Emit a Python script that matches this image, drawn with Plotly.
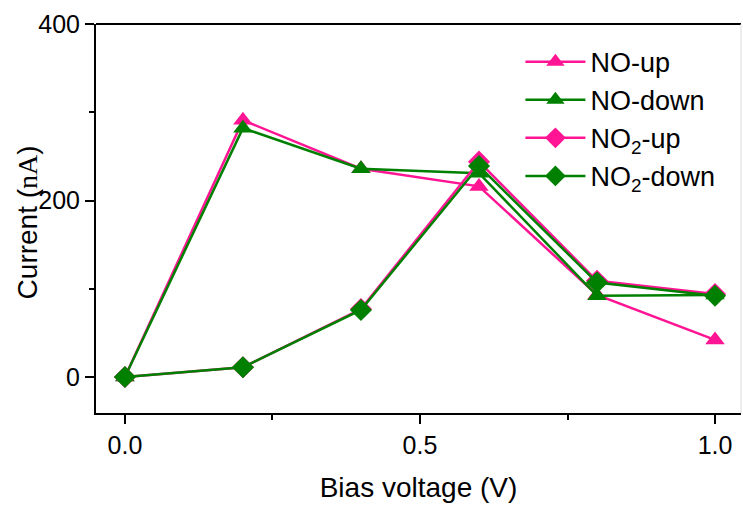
import plotly.graph_objects as go

voltage = [0.0, 0.2, 0.4, 0.6, 0.8, 1.0]
no_up = [0, 291, 236, 216, 93, 42]
no_down = [0, 282, 236, 231, 92, 93]
no2_up = [0, 11, 77, 244, 109, 94]
no2_down = [0, 11, 76, 239, 107, 92]

PINK = "#FF1493"
GREEN = "#008000"
FONT = "Liberation Sans, Arial"

series = [
    ("NO-up", no_up, PINK, "triangle-up", 17),
    ("NO-down", no_down, GREEN, "triangle-up", 17),
    ("NO<sub>2</sub>-up", no2_up, PINK, "diamond", 17),
    ("NO<sub>2</sub>-down", no2_down, GREEN, "diamond", 17),
]

fig = go.Figure()
for name, vals, col, sym, sz in series:
    fig.add_trace(go.Scatter(
        x=voltage, y=vals, name=name, mode="lines+markers",
        line=dict(color=col, width=2.5),
        marker=dict(symbol=sym, size=sz, color=col),
    ))

axis_common = dict(
    showline=True, linecolor="black", linewidth=2, mirror=False,
    ticks="outside", ticklen=9, tickwidth=2, tickcolor="black",
    showgrid=False, zeroline=False,
    tickfont=dict(family=FONT, size=25, color="black"),
)

fig.update_xaxes(range=[-0.049, 1.044], tickvals=[0.0, 0.5, 1.0],
                 ticktext=["0.0", "0.5", "1.0"],
                 title=dict(text="Bias voltage (V)", font=dict(family=FONT, size=28, color="black"), standoff=19),
                 minor=dict(tickvals=[0.25, 0.75], ticks="outside", ticklen=5, tickwidth=2, tickcolor="black"),
                 **axis_common)
fig.update_yaxes(range=[-40.8, 400], tickvals=[0, 200, 400],
                 minor=dict(tickvals=[100, 300], ticks="outside", ticklen=5, tickwidth=2, tickcolor="black"),
                 **axis_common)

# y-axis title as annotation for precise placement
fig.add_annotation(text="Current (<span style='font-family:Liberation Serif'>nA</span>)",
                   xref="paper", yref="paper", x=0, y=0.49, xanchor="center", yanchor="middle",
                   xshift=-69, textangle=-90, showarrow=False,
                   font=dict(family=FONT, size=28, color="black"))

# top frame line and faint right border
fig.add_shape(type="line", xref="paper", yref="paper", x0=0, x1=1, y0=1, y1=1,
              line=dict(color="black", width=2))
fig.add_shape(type="line", xref="paper", yref="paper", x0=1, x1=1, y0=0, y1=1,
              line=dict(color="#dddddd", width=1))

fig.update_layout(
    width=743, height=505,
    margin=dict(l=96, r=2, t=24, b=92, autoexpand=False),
    plot_bgcolor="white", paper_bgcolor="white",
    showlegend=True,
    legend=dict(x=0.658, y=0.965, xanchor="left", yanchor="top",
                font=dict(family=FONT, size=27, color="black"),
                bgcolor="rgba(0,0,0,0)", itemwidth=60),
)

fig.write_html("out.html", config={"displayModeBar": False},
               post_script="document.body.style.margin='0';document.body.style.overflow='hidden';")
